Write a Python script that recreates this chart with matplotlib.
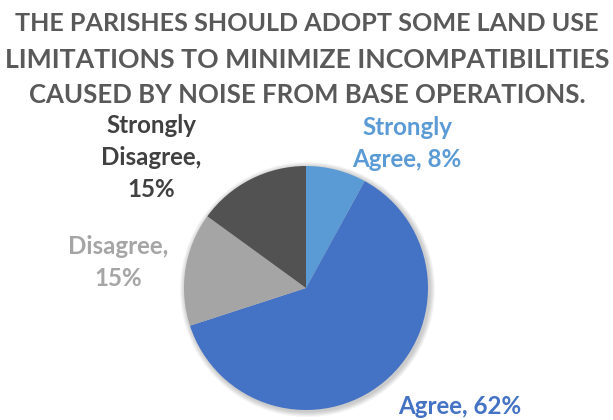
import matplotlib
matplotlib.use("Agg")
import matplotlib.pyplot as plt
from matplotlib.patches import Circle

# Survey responses
categories = ["Strongly Agree", "Agree", "Disagree", "Strongly Disagree"]
shares = [8, 62, 15, 15]
colors = ["#5B9BD5", "#4472C4", "#A5A5A5", "#525252"]
label_colors = ["#5B9BD5", "#4472C4", "#A5A5A5", "#404040"]

title_lines = [
    "THE PARISHES SHOULD ADOPT SOME LAND USE",
    "LIMITATIONS TO MINIMIZE INCOMPATIBILITIES",
    "CAUSED BY NOISE FROM BASE OPERATIONS.",
]

# wrapped data labels: "<category>, <share>%"
label_lines = [
    ["Strongly", f"Agree, {shares[0]}%"],
    [f"Agree, {shares[1]}%"],
    ["Disagree,", f"{shares[2]}%"],
    ["Strongly", "Disagree,", f"{shares[3]}%"],
]

W, H = 613, 420
fig = plt.figure(figsize=(W / 100, H / 100), dpi=100)
ax = fig.add_axes([0, 0, 1, 1])

FONT = "Lato"
cx, cy, r = 306, H - 288, 122

# soft shadow around the pie
for i in range(6):
    ax.add_patch(Circle((cx + 1.5, cy - 1.5), r + 1 + i * 0.9, color="black",
                        alpha=0.035, lw=0, zorder=1))

ax.pie(shares, colors=colors, startangle=90, counterclock=False,
       center=(cx, cy), radius=r, wedgeprops=dict(linewidth=0, zorder=2),
       frame=True)
ax.set_xlim(0, W)
ax.set_ylim(0, H)
ax.set_aspect("equal")
ax.axis("off")

fig.canvas.draw()
renderer = fig.canvas.get_renderer()


def text_width(s, size):
    t = ax.text(0, 0, s, fontsize=size, family=FONT, fontweight="bold")
    w = t.get_window_extent(renderer).width
    t.remove()
    return w


# title, three centred lines (baselines in pixels from top)
title_base = [31, 68, 103]
title_w = [582, 604, 556]
for s, yy, ww in zip(title_lines, title_base, title_w):
    size = 20 * ww / text_width(s, 20)
    ax.text(W / 2 + 0.5, H - yy, s, fontsize=size, family=FONT, fontweight="bold",
            color="#595959", ha="center", va="baseline")

# data labels: centre x and first baseline, in pixels from top
label_size = 15 * 124 / text_width("Agree, 62%", 15)
line_step = 32
label_anchor = [(407, 135), (460, 414), (118, 254), (151, 133)]
for lines, (lx, ly), c in zip(label_lines, label_anchor, label_colors):
    for k, s in enumerate(lines):
        ax.text(lx, H - (ly + k * line_step), s, fontsize=label_size, family=FONT,
                fontweight="bold", color=c, ha="center", va="baseline")

fig.savefig("out.png", dpi=100)
